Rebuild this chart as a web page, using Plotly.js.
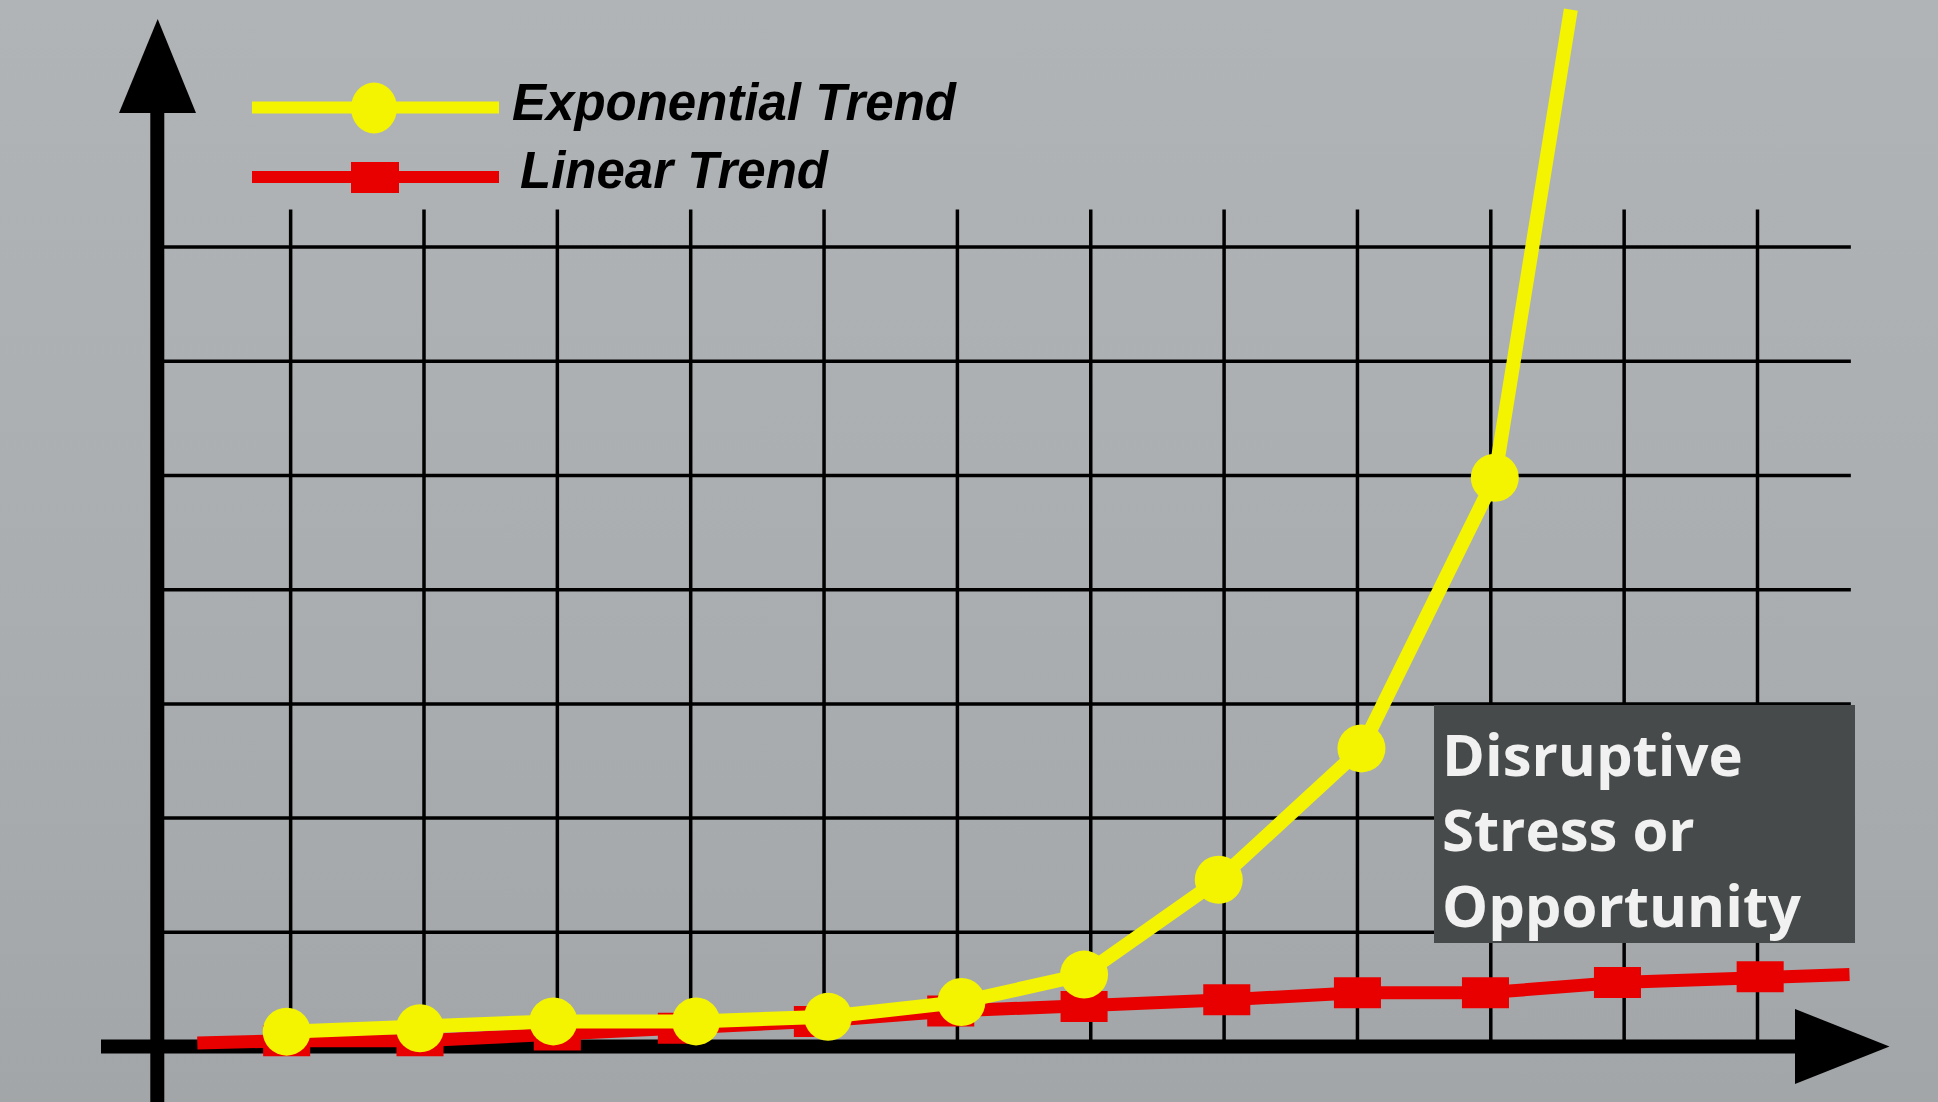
<!DOCTYPE html>
<html>
<head>
<meta charset="utf-8">
<script src="https://cdn.plot.ly/plotly-3.0.1.min.js"></script>
<style>
  html, body { margin: 0; padding: 0; }
  body { width: 1938px; height: 1102px; overflow: hidden;
         background: linear-gradient(180deg, #b1b4b6 0%, #aaadaf 60%, #a3a6a8 100%); }
  #chart { width: 1938px; height: 1102px; }
  #chart text { font-variant-ligatures: none; }
</style>
</head>
<body>
<div id="chart"></div>
<script>
// ---------------- DATA ----------------
const seriesNames = ["Exponential Trend", "Linear Trend"];

const exponentialX = [0.97, 1.97, 2.97, 4.04, 5.03, 6.03, 6.95, 7.96, 9.03, 10.03, 10.60];
const exponentialY = [0.13, 0.16, 0.22, 0.22, 0.26, 0.39, 0.63, 1.46, 2.61, 4.98, 9.08];

const linearX = [0.30, 0.97, 1.97, 3.00, 3.93, 4.95, 5.95, 6.95, 8.02, 9.00, 9.96, 10.95, 12.02, 12.69];
const linearY = [0.03, 0.05, 0.05, 0.10, 0.16, 0.22, 0.31, 0.35, 0.41, 0.47, 0.47, 0.56, 0.61, 0.63];

const xGridTicks = [1, 2, 3, 4, 5, 6, 7, 8, 9, 10, 11, 12];
const yGridTicks = [1, 2, 3, 4, 5, 6, 7];

const boxLines = ["Disruptive", "Stress or", "Opportunity"];

// ---------------- LAYOUT CONSTANTS ----------------
const W = 1938, H = 1102;
const X0 = 157.3, DX = 133.35;   // pixel of x=0 and pixels per unit
const Y0 = 1046.5, DY = 114.2;   // pixel of y=0 and pixels per unit
const gridTop = 7.33, gridRight = 12.70;

const YELLOW = "#f4f400";
const RED = "#e80000";
const BLACK = "#000000";

const PX = v => v / W;          // pixel -> paper x
const PY = v => 1 - v / H;      // pixel -> paper y

const shapes = [];

// grid lines (data coordinates)
xGridTicks.forEach(t => shapes.push({
  type: "line", xref: "x", yref: "y", x0: t, x1: t, y0: 0, y1: gridTop,
  line: { color: BLACK, width: 3.5 }, layer: "below"
}));
yGridTicks.forEach(t => shapes.push({
  type: "line", xref: "x", yref: "y", x0: 0, x1: gridRight, y0: t, y1: t,
  line: { color: BLACK, width: 3.5 }, layer: "below"
}));

// axes with arrow heads (paper coordinates from pixel positions)
shapes.push({ type: "line", xref: "paper", yref: "paper",
  x0: PX(X0), x1: PX(X0), y0: PY(H), y1: PY(112.7),
  line: { color: BLACK, width: 14 }, layer: "below" });
shapes.push({ type: "path", xref: "paper", yref: "paper",
  path: `M${PX(119)},${PY(113)} L${PX(196)},${PY(113)} L${PX(157.7)},${PY(19)} Z`,
  fillcolor: BLACK, line: { width: 0 }, layer: "below" });
shapes.push({ type: "line", xref: "paper", yref: "paper",
  x0: PX(101), x1: PX(1796), y0: PY(Y0), y1: PY(Y0),
  line: { color: BLACK, width: 14 }, layer: "below" });
shapes.push({ type: "path", xref: "paper", yref: "paper",
  path: `M${PX(1795)},${PY(1009)} L${PX(1795)},${PY(1084)} L${PX(1889.5)},${PY(1046.5)} Z`,
  fillcolor: BLACK, line: { width: 0 }, layer: "below" });

// annotation box
shapes.push({ type: "rect", xref: "paper", yref: "paper",
  x0: PX(1434), x1: PX(1855), y0: PY(943), y1: PY(705),
  fillcolor: "#474a4a", line: { width: 0 }, layer: "above" });

// custom legend samples
shapes.push({ type: "line", xref: "paper", yref: "paper",
  x0: PX(252), x1: PX(499), y0: PY(107.5), y1: PY(107.5),
  line: { color: YELLOW, width: 12 }, layer: "above" });
shapes.push({ type: "circle", xref: "paper", yref: "paper",
  x0: PX(351), x1: PX(397), y0: PY(133.5), y1: PY(82.5),
  fillcolor: YELLOW, line: { width: 0 }, layer: "above" });
shapes.push({ type: "line", xref: "paper", yref: "paper",
  x0: PX(252), x1: PX(499), y0: PY(177), y1: PY(177),
  line: { color: RED, width: 12 }, layer: "above" });
shapes.push({ type: "rect", xref: "paper", yref: "paper",
  x0: PX(351), x1: PX(399), y0: PY(193), y1: PY(162),
  fillcolor: RED, line: { width: 0 }, layer: "above" });

const legendFont = { family: "Liberation Sans, Arial, sans-serif", size: 51, color: BLACK,
                     weight: 700, style: "italic" };

const annotations = [
  { xref: "paper", yref: "paper", x: PX(510), y: PY(102), xanchor: "left", yanchor: "middle",
    text: seriesNames[0], showarrow: false, font: legendFont },
  { xref: "paper", yref: "paper", x: PX(518), y: PY(171), xanchor: "left", yanchor: "middle",
    text: seriesNames[1], showarrow: false, font: legendFont },
  { xref: "paper", yref: "paper", x: PX(1440), y: PY(829), xanchor: "left", yanchor: "middle",
    align: "left", text: boxLines.join("<br>"), showarrow: false,
    font: { family: "Open Sans, sans-serif", size: 58, color: "#f1f1f1", weight: 700 } }
];

// ---------------- TRACES ----------------
const linearTrace = {
  type: "scatter", mode: "lines+markers", name: seriesNames[1],
  x: linearX, y: linearY, showlegend: false, cliponaxis: false,
  line: { color: RED, width: 13 },
  marker: {
    symbol: "line-ew",
    size: linearX.map((_, i) => (i === 0 || i === linearX.length - 1) ? 0 : 33.6),
    color: RED,
    opacity: 1,
    line: { color: RED, width: 31 }
  },
  opacity: 1,
  hoverinfo: "skip"
};

const exponentialTrace = {
  type: "scatter", mode: "lines+markers", name: seriesNames[0],
  x: exponentialX, y: exponentialY, showlegend: false, cliponaxis: false,
  line: { color: YELLOW, width: 14 },
  marker: {
    symbol: "circle",
    size: exponentialX.map((_, i) => i === exponentialX.length - 1 ? 0 : 48),
    color: YELLOW,
    opacity: 1,
    line: { width: 0 }
  },
  opacity: 1,
  hoverinfo: "skip"
};

const axisCommon = { showgrid: false, zeroline: false, showline: false,
                     showticklabels: false, ticks: "", fixedrange: true };

const layout = {
  width: W, height: H,
  margin: { l: 0, r: 0, t: 0, b: 0, pad: 0 },
  paper_bgcolor: "rgba(0,0,0,0)",
  plot_bgcolor: "rgba(0,0,0,0)",
  showlegend: false,
  hovermode: false,
  xaxis: Object.assign({ range: [-X0 / DX, (W - X0) / DX] }, axisCommon),
  yaxis: Object.assign({ range: [(Y0 - H) / DY, Y0 / DY] }, axisCommon),
  shapes: shapes,
  annotations: annotations
};

Plotly.newPlot("chart", [linearTrace, exponentialTrace], layout,
               { displayModeBar: false, staticPlot: true });
</script>
</body>
</html>
